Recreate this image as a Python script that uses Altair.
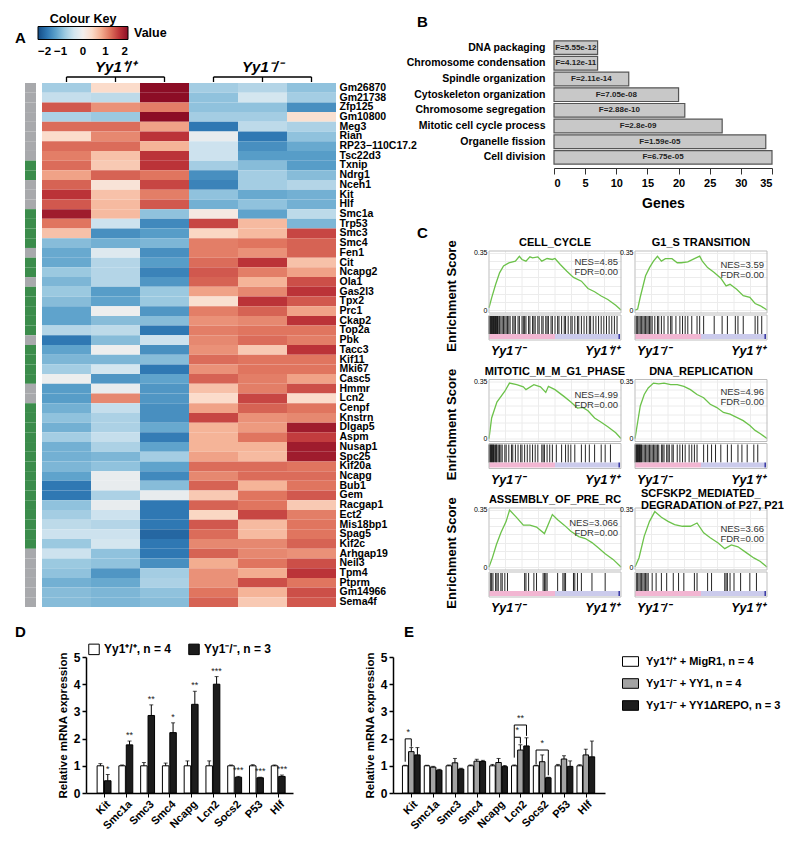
import json
import altair as alt
import pandas as pd

FONT = "Liberation Sans"
WT = "Yy1\u207a/\u207a"
KO = "Yy1\u207b/\u207b"

# ---------------- Panel A : heatmap ----------------
heat_genes = ["Gm26870", "Gm21738", "Zfp125", "Gm10800", "Meg3", "Rian", "RP23\u2212110C17.2",
              "Tsc22d3", "Txnip", "Ndrg1", "Nceh1", "Kit", "Hlf", "Smc1a", "Trp53", "Smc3", "Smc4",
              "Fen1", "Cit", "Ncapg2", "Ola1", "Gas2l3", "Tpx2", "Prc1", "Ckap2", "Top2a", "Pbk",
              "Tacc3", "Kif11", "Mki67", "Casc5", "Hmmr", "Lcn2", "Cenpf", "Knstrn", "Dlgap5", "Aspm",
              "Nusap1", "Spc25", "Kif20a", "Ncapg", "Bub1", "Gem", "Racgap1", "Ect2", "Mis18bp1",
              "Spag5", "Kif2c", "Arhgap19", "Neil3", "Tpm4", "Ptprm", "Gm14966", "Sema4f"]
wt1 = [-0.75, -0.5, 1.38, -0.69, 1.25, 0.38, 1.25, 1.13, 1.25, 0.88,
       1.31, 1.63, 1.38, 1.85, 1.19, 0.63, -0.94, -1.13, -1.13, -0.81,
       -1.0, -0.81, -0.94, -1.19, -1.19, -0.63, -1.6, -1.19, -1.0, -0.75,
       -0.06, -1.25, -1.25, -1.06, -0.88, -1.06, -0.75, -1.06, -1.06, -1.0,
       -1.19, -1.6, -1.6, -0.88, -0.75, -0.56, -0.44, -0.81, -0.44, -0.81,
       -0.88, -1.06, -0.94, -0.94]
wt2 = [0.38, -0.56, 1.0, -0.81, 1.25, 1.06, 1.25, 0.63, 0.56, 1.31,
       0.25, 0.63, 0.69, 0.69, -0.44, -1.38, -1.06, -0.25, -0.63, -0.63,
       -0.63, -1.25, -1.19, -0.06, -0.94, -0.56, -0.94, -0.06, -1.0, -0.38,
       -1.31, -0.13, 1.06, -0.5, -0.69, -0.69, -0.5, -0.69, -1.0, -0.88,
       -0.13, -0.13, -0.69, -0.13, -0.44, -0.63, -0.44, -0.38, -0.88, -0.88,
       -1.31, -1.13, -1.0, -1.0]
wt3 = [2.0, 2.0, 1.13, 2.0, 0.88, 1.63, 0.75, 1.63, 1.63, 1.19,
       1.5, 1.13, 1.38, -0.88, -1.44, -1.25, -1.0, -1.38, -1.25, -1.5,
       -1.31, -0.81, -0.81, -1.31, -0.94, -1.6, -0.44, -1.38, -0.94, -1.6,
       -1.19, -1.31, -1.31, -1.38, -1.38, -1.13, -1.56, -1.19, -0.75, -1.19,
       -1.44, -0.94, -0.13, -1.6, -1.6, -1.6, -1.75, -1.6, -1.6, -1.38,
       -0.75, -0.69, -0.88, -0.94]
ko1 = [-0.75, -0.88, -0.88, -0.75, -1.6, -0.13, -0.44, -0.44, -0.75, -1.38,
       -1.5, -0.88, -1.06, 0.13, 1.5, 0.44, 1.13, 1.13, 1.25, 1.38,
       1.31, 0.88, 0.31, 1.13, 1.0, 1.13, 1.06, 1.0, 1.25, 1.0,
       1.31, 0.63, 0.38, 0.88, 1.5, 0.75, 0.75, 0.75, 0.88, 1.25,
       1.06, 1.31, 0.56, 1.31, 0.44, 1.38, 1.25, 1.06, 1.31, 0.81,
       1.0, 1.0, 1.19, 1.31]
ko2 = [-0.63, -0.38, -0.88, -0.75, -0.56, -1.6, -1.38, -1.25, -0.94, -0.75,
       -0.75, -1.13, -0.88, -1.19, 0.69, 0.69, 1.19, 1.0, 1.63, 1.13,
       0.75, 1.06, 1.63, 1.31, 1.06, 1.19, 1.25, 0.56, 1.19, 1.19,
       1.13, 1.13, 1.5, 1.31, 1.0, 0.94, 1.19, 0.75, 0.69, 1.25,
       1.25, 0.75, 1.19, 1.19, 1.5, 0.69, 0.69, 1.06, 1.06, 1.19,
       0.81, 1.44, 0.75, 0.56]
ko3 = [-0.88, -0.75, -1.38, 0.31, -0.69, -0.88, -1.13, -1.25, -1.25, -0.94,
       -0.63, -1.06, -1.06, -0.56, -1.0, 1.5, 1.31, 1.31, 0.63, 0.88,
       1.44, 1.63, 1.38, 0.88, 1.63, 1.19, 1.13, 1.63, 1.19, 1.19,
       0.88, 1.44, 0.38, 1.19, 1.06, 1.85, 1.56, 1.85, 1.85, 1.19,
       1.25, 1.19, 1.38, 0.56, 1.13, 1.19, 1.19, 1.31, 1.0, 1.44,
       1.63, 1.19, 1.44, 1.38]
side_class = (["other"] * 8 + ["cycle"] * 2 + ["other"] * 3 + ["cycle"] * 4 + ["other"] +
              ["cycle"] * 2 + ["other"] + ["cycle"] * 5 + ["other"] + ["cycle"] * 4 +
              ["other"] * 2 + ["cycle"] * 15 + ["other"] * 6)
groups = [WT, KO]
group_first = [0, 3]
group_last = [2, 5]

# ---------------- Panel B ----------------
go_terms = ["DNA packaging", "Chromosome condensation", "Spindle organization",
            "Cytoskeleton organization", "Chromosome segregation", "Mitotic cell cycle process ",
            "Organelle fission", "Cell division"]
go_genes = [7, 7, 12, 20, 21, 27, 34, 35]
go_fdr = ["F=5.55e-12", "F=4.12e-11", "F=2.11e-14", "F=7.05e-08", "F=2.88e-10",
          "F=2.8e-09", "F=1.59e-05", "F=6.75e-05"]

# ---------------- Panel C : GSEA ----------------
gsea_titles = [["CELL_CYCLE"], ["G1_S TRANSITION"], ["MITOTIC_M_M_G1_PHASE"], ["DNA_REPLICATION"],
               ["ASSEMBLY_OF_PRE_RC"], ["SCFSKP2_MEDIATED_", "DEGRADATION of P27, P21"]]
gsea_nes = ["NES=4.85", "NES=3.59", "NES=4.99", "NES=4.96", "NES=3.066", "NES=3.66"]
gsea_fdr = ["FDR=0.00", "FDR=0.00", "FDR=0.00", "FDR=0.00", "FDR=0.00", "FDR=0.00"]
cc_x = [0, 2, 5, 8, 11, 15, 20, 23, 25, 28, 31, 33, 37, 40, 44, 48, 50, 54, 59, 64, 70, 75, 80, 85, 90, 96, 100]
cc_y = [0.014, 0.075, 0.157, 0.228, 0.27, 0.289, 0.3, 0.33, 0.31, 0.3, 0.326, 0.32, 0.326, 0.3, 0.316,
        0.31, 0.316, 0.279, 0.238, 0.2, 0.177, 0.132, 0.112, 0.086, 0.065, 0.03, 0.0]
g1_x = [0, 2, 4, 8, 11, 14, 17, 20, 23, 28, 32, 35, 40, 45, 49, 51, 55, 60, 65, 69, 72, 77, 82, 87, 91, 95, 100]
g1_y = [0, 0.006, 0.08, 0.21, 0.26, 0.3, 0.33, 0.3, 0.315, 0.315, 0.29, 0.29, 0.295, 0.315, 0.33, 0.3,
        0.26, 0.23, 0.195, 0.148, 0.158, 0.128, 0.088, 0.078, 0.04, 0.026, 0]
mi_x = [0, 2, 6, 12, 15.5, 21, 26, 28, 34, 39, 43, 45, 50, 57, 62, 67, 71, 75, 80, 85, 90, 96, 100]
mi_y = [0, 0.126, 0.224, 0.29, 0.34, 0.33, 0.317, 0.3, 0.33, 0.317, 0.283, 0.32, 0.3, 0.257, 0.224,
        0.187, 0.191, 0.17, 0.126, 0.1, 0.072, 0.035, 0]
dn_x = [0, 2, 4, 7, 10, 14, 18, 22, 27, 32, 37, 42, 47, 52, 57, 62, 67, 72, 77, 82, 87, 91, 95, 100]
dn_y = [0, 0.1, 0.2, 0.27, 0.31, 0.34, 0.335, 0.34, 0.33, 0.33, 0.32, 0.3, 0.27, 0.25, 0.21, 0.19,
        0.16, 0.15, 0.13, 0.11, 0.08, 0.05, 0.03, 0]
as_x = [0, 2.6, 5.7, 9, 13, 15.6, 21, 26, 31, 36, 42, 48, 52, 57, 62, 68, 73, 78, 83, 88, 94, 100]
as_y = [0, 0.058, 0.14, 0.21, 0.28, 0.35, 0.303, 0.257, 0.257, 0.245, 0.205, 0.322, 0.29, 0.257, 0.22,
        0.187, 0.175, 0.15, 0.117, 0.082, 0.047, 0]
sc_x = [0, 3, 7, 11, 15, 20, 25, 30, 36, 42, 47, 52, 57, 63, 68, 73, 78, 84, 90, 95, 100]
sc_y = [0, 0.056, 0.19, 0.28, 0.34, 0.305, 0.28, 0.26, 0.25, 0.25, 0.27, 0.21, 0.18, 0.147, 0.113,
        0.136, 0.124, 0.09, 0.056, 0.034, 0]
cc_hits = [0, 0.5, 1, 1.5, 2, 2.5, 3, 3.5, 4, 4.5, 5, 5.5, 6, 6.5, 7, 8, 9, 10, 11, 12, 13, 14, 15, 16,
           18, 19, 20, 22, 23, 25, 26, 27, 28, 30, 31, 33, 34, 35, 37, 38, 40, 41, 43, 44, 45, 47, 48,
           50, 52, 53, 55, 57, 58, 60, 62, 63, 65, 67, 68, 70, 72, 74, 76, 77, 79, 81, 83, 85, 87, 89,
           91, 93, 95, 97]
g1_hits = [0, 1, 2, 3, 4, 5, 6, 7, 8, 9, 10, 11, 12, 13, 15, 17, 18, 20, 22, 25, 27, 28, 31, 34, 36,
           38, 40, 43, 47, 49, 52, 60, 66, 70, 76, 78, 82, 91, 93, 96]
mi_hits = [0, 0.5, 1, 1.5, 2, 2.5, 3, 3.5, 4, 5, 5.5, 6, 7, 8, 9, 10, 12, 13, 15, 17, 18, 20, 22, 24,
           25, 27, 29, 31, 33, 35, 37, 40, 41, 42, 44, 46, 48, 51, 55, 58, 60, 62, 65, 70, 73, 76, 80,
           85, 88, 92]
dn_hits = [0, 0.5, 1, 1.5, 2, 2.5, 3, 3.5, 4, 4.5, 5, 6, 7, 8, 9, 10, 11, 12, 13, 14, 15, 16, 17, 18,
           20, 21, 22, 24, 25, 26, 28, 29, 32, 34, 36, 38, 41, 43, 45, 47, 52, 55, 58, 61, 65, 70, 73,
           78, 81, 85, 90, 93]
as_hits = [1, 2, 3, 5, 6, 7, 9, 10, 12, 14, 27, 28, 30, 34, 36, 41, 42, 43, 44, 52, 56, 57, 58, 64,
           65, 67, 70, 78, 88]
sc_hits = [1, 2, 3, 4, 5, 6, 7, 8, 9, 10, 13, 16, 20, 24, 29, 33, 37, 45, 47, 55, 58, 68, 69, 70, 72,
           75, 80, 87, 92]
strip_seg = ["up", "down", "end"]
strip_start = [0, 50, 98]
strip_end = [50, 98, 99.3]
grid_ranks = [12.5, 25, 37.5, 50, 62.5, 75, 87.5]

# ---------------- Panels D and E ----------------
qgenes = ["Kit", "Smc1a", "Smc3", "Smc4", "Ncapg", "Lcn2", "Socs2", "P53", "Hlf"]
d_wt = [1.0, 1.0, 1.0, 1.0, 1.0, 1.0, 1.0, 1.0, 1.0]
d_wt_err = [0.08, 0.03, 0.12, 0.1, 0.18, 0.18, 0.03, 0.04, 0.03]
d_ko = [0.45, 1.77, 2.85, 2.22, 3.26, 4.0, 0.58, 0.56, 0.61]
d_ko_err = [0.23, 0.14, 0.39, 0.36, 0.48, 0.28, 0.03, 0.02, 0.05]
d_stars = ["*", "**", "**", "*", "**", "***", "***", "***", "***"]
d_labels = [WT + ", n = 4", KO + ", n = 3"]

e_wt = [1.0, 1.0, 1.0, 1.0, 1.0, 1.0, 1.0, 1.0, 1.0]
e_wt_err = [0.02, 0.02, 0.03, 0.03, 0.05, 0.03, 0.02, 0.05, 0.04]
e_yy1 = [1.52, 0.95, 1.11, 1.17, 1.12, 1.58, 1.15, 1.25, 1.4]
e_yy1_err = [0.15, 0.03, 0.16, 0.07, 0.15, 0.19, 0.25, 0.12, 0.21]
e_rep = [1.4, 0.84, 0.88, 1.16, 0.97, 1.73, 0.56, 0.98, 1.33]
e_rep_err = [0.27, 0.03, 0.03, 0.04, 0.04, 0.3, 0.02, 0.2, 0.58]
e_labels = [WT + " + MigR1, n = 4", KO + " + YY1, n = 4", KO + " + YY1\u0394REPO, n = 3"]
brk_gene = [0, 5, 5, 6]
brk_from = ["wt", "wt", "wt", "wt"]
brk_to = ["yy1", "yy1", "rep", "rep"]
brk_top = [1.99, 2.05, 2.5, 1.58]
brk_from_low = [1.15, 1.3, 2.05, 1.05]
brk_to_low = [1.7, 1.82, 2.1, 0.65]
brk_star = ["*", "*", "**", "*"]


# ---------------- helpers ----------------
def spacer(w, h):
    return alt.Chart(pd.DataFrame({"s": [0]})).mark_point(opacity=0).encode(
        x=alt.value(0), y=alt.value(0)).properties(width=w, height=h)


def note(text, x, y, size=12, weight="bold", align="left", style="normal", color="black",
         baseline="middle", line_break=None):
    kw = dict(align=align, baseline=baseline, fontSize=size, fontWeight=weight, fontStyle=style,
              color=color)
    if line_break:
        kw["lineBreak"] = line_break
        kw["lineHeight"] = 10
    return alt.Chart(pd.DataFrame({"t": [text]})).mark_text(**kw).encode(
        text="t:N", x=alt.value(x), y=alt.value(y))


def box(x1, x2, y1, y2):
    return alt.Chart(pd.DataFrame({"b": [0]})).mark_rect(
        fillOpacity=0, stroke="#bdbdbd", strokeWidth=1).encode(
        x=alt.value(x1), x2=alt.value(x2), y=alt.value(y1), y2=alt.value(y2))


INDEP = dict(color="independent")

# ---------------- Panel A ----------------
heat_rows = []
for j, vals in enumerate([wt1, wt2, wt3, ko1, ko2, ko3]):
    for g, v in zip(heat_genes, vals):
        heat_rows.append({"gene": g, "col": j, "value": v})
heat_df = pd.DataFrame(heat_rows)
hx = alt.Scale(domain=[0, 6], nice=False, zero=False)
hy = alt.Y("gene:N", sort=heat_genes, scale=alt.Scale(paddingInner=0, paddingOuter=0),
           axis=alt.Axis(orient="right", ticks=False, domain=False, labelFontSize=10.5,
                         labelFontWeight="bold", labelPadding=3, labelColor="black", title=None))
cells = alt.Chart(heat_df).transform_calculate(col2="datum.col + 1").mark_rect().encode(
    x=alt.X("col:Q", scale=hx, axis=None), x2="col2:Q", y=hy,
    color=alt.Color("value:Q", scale=alt.Scale(scheme="redblue", reverse=True, domain=[-2, 2]),
                    legend=alt.Legend(title="Colour Key", orient="none", legendX=-4, legendY=-70,
                                      direction="horizontal", gradientLength=90,
                                      gradientThickness=13, values=[-2, -1, 0, 1, 2],
                                      titleFontSize=12.5, titleFontWeight="bold",
                                      titleAnchor="middle", titlePadding=1, labelFontSize=11.5,
                                      labelFontWeight="bold", labelOffset=6,
                                      gradientStrokeColor="black", gradientStrokeWidth=1)))
side_df = pd.DataFrame({"gene": heat_genes, "cls": side_class})
side = alt.Chart(side_df).mark_rect().encode(
    x=alt.value(-17), x2=alt.value(-6), y=alt.Y("gene:N", sort=heat_genes),
    color=alt.Color("cls:N", scale=alt.Scale(domain=["other", "cycle"],
                                             range=["#a8a9ac", "#3b8c4b"]), legend=None))
grp_df = pd.DataFrame({"grp": groups, "first": group_first, "last": group_last})
br_h = alt.Chart(grp_df).transform_calculate(a="datum.first + 0.5", b="datum.last + 0.5").mark_rule(
    color="black", strokeWidth=1.3).encode(x=alt.X("a:Q", scale=hx), x2="b:Q", y=alt.value(-6))
tick_df = pd.DataFrame({"col": list(range(6))})
br_t = alt.Chart(tick_df).transform_calculate(c="datum.col + 0.5").mark_rule(
    color="black", strokeWidth=1.3).encode(x=alt.X("c:Q", scale=hx), y=alt.value(-6), y2=alt.value(-1))
grp_txt = alt.Chart(grp_df).transform_calculate(m="(datum.first + datum.last) / 2 + 0.5").mark_text(
    fontSize=15, fontWeight="bold", fontStyle="italic", baseline="middle").encode(
    x=alt.X("m:Q", scale=hx), y=alt.value(-16), text="grp:N")
panel_a = alt.layer(cells, side, br_h, br_t, grp_txt,
                    note("Value", 92, -50, size=12.5),
                    note("A", -27, -45, size=15)).resolve_scale(**INDEP).properties(
    width=294, height=524)
col_a = alt.vconcat(spacer(294, 43), panel_a, spacing=0, bounds="flush").resolve_scale(**INDEP)

# ---------------- Panel B ----------------
b_df = pd.DataFrame({"term": go_terms, "genes": go_genes, "fdr": go_fdr})
by = alt.Y("term:N", sort=go_terms, scale=alt.Scale(paddingInner=0.13, paddingOuter=0.05),
           axis=alt.Axis(title=None, ticks=False, domain=False, labelFontSize=10.5,
                         labelFontWeight="bold", labelPadding=9, labelColor="black"))
bxs = alt.Scale(domain=[0, 35], nice=False)
bx_axis = alt.Axis(values=[0, 5, 10, 15, 20, 25, 30, 35], title="Genes", titleFontSize=14,
                   titleFontWeight="bold", titlePadding=8, labelFontSize=11,
                   labelFontWeight="bold", tickSize=6, tickColor="#333", labelOverlap=False,
                   domainColor="#333", offset=3, grid=False, labelPadding=3)
b_bars = alt.Chart(b_df).mark_bar(color="#c8c8c8", stroke="#555555", strokeWidth=1.2).encode(
    x=alt.X("genes:Q", scale=bxs, axis=bx_axis, title="Genes"), y=by)
b_txt = alt.Chart(b_df).transform_calculate(mid="datum.genes / 2").mark_text(
    fontSize=8, fontWeight="bold", color="#222").encode(
    x=alt.X("mid:Q", scale=bxs, axis=bx_axis, title="Genes"), y=by, text="fdr:N")
panel_b = alt.layer(b_bars, b_txt, note("B", -137, -18, size=15)).properties(width=218, height=125)
row_b = alt.hconcat(spacer(65, 125), panel_b, spacing=0, bounds="flush")

# ---------------- Panel C ----------------
curves = [(cc_x, cc_y), (g1_x, g1_y), (mi_x, mi_y), (dn_x, dn_y), (as_x, as_y), (sc_x, sc_y)]
hits_all = [cc_hits, g1_hits, mi_hits, dn_hits, as_hits, sc_hits]
nes_pos = [6, 9, 10, 7, 10, 16]
GW, GH = 132, 62
B0, B1, B2 = 64, 83, 89   # barcode top, strip top, panel bottom
TSIZE = 11


def gsea(i):
    left = i % 2 == 0
    xs, ys = curves[i]
    cdf = pd.DataFrame({"rank": xs, "es": ys})
    xsc = alt.Scale(domain=[0, 100], nice=False, zero=False)
    gdf = pd.DataFrame({"g": grid_ranks})
    grid = alt.Chart(gdf).mark_rule(color="#ececec", strokeWidth=1).encode(
        x=alt.X("g:Q", scale=xsc, axis=None), y=alt.value(0), y2=alt.value(GH))
    line = alt.Chart(cdf).mark_line(color="#6cc24a", strokeWidth=1.3).encode(
        x=alt.X("rank:Q", scale=xsc, axis=None),
        y=alt.Y("es:Q", scale=alt.Scale(domain=[-0.018, 0.362], range=[GH, 0], nice=False, zero=False),
                axis=alt.Axis(values=[0, 0.05, 0.1, 0.15, 0.2, 0.25, 0.3, 0.35],
                              labelExpr="datum.value == 0 ? '0' : (datum.value > 0.34 ? '0.35' : '')",
                              labelFontSize=7, labelPadding=2, ticks=False, domain=False,
                              grid=True, gridColor="#ececec",
                              title="Enrichment Score" if left else None, titleFontSize=13,
                              titleFontWeight="bold", titleX=-38, titleY=44.5, titleAngle=270,
                              titleAlign="center", titleBaseline="middle")))
    hdf = pd.DataFrame({"hit": hits_all[i]})
    bars = alt.Chart(hdf).mark_rule(color="black", strokeWidth=1, opacity=0.85).encode(
        x=alt.X("hit:Q", scale=xsc), y=alt.value(B0 + 1), y2=alt.value(B1))
    sdf = pd.DataFrame({"seg": strip_seg, "start": strip_start, "end": strip_end})
    strip = alt.Chart(sdf).mark_rect().encode(
        x=alt.X("start:Q", scale=xsc), x2="end:Q", y=alt.value(B1), y2=alt.value(B2 - 1),
        color=alt.Color("seg:N", scale=alt.Scale(domain=strip_seg,
                                                 range=["#f2b6d2", "#cbcbec", "#3d3da6"]),
                        legend=None))
    layers = [grid, line, box(0, GW, 0, GH), bars, strip, box(0, GW, B0, B2),
              note(KO, 2, B2 + 11, size=12.5, style="italic"),
              note(WT, GW - 2, B2 + 11, size=12.5, style="italic", align="right"),
              note(gsea_nes[i] + "\n" + gsea_fdr[i], GW - 3, nes_pos[i], size=9.5,
                   weight="normal", align="right", color="#333", baseline="top", line_break="\n")]
    if len(gsea_titles[i]) == 1:
        layers.append(note(gsea_titles[i][0], GW / 2, -8, size=TSIZE, align="center"))
    else:
        layers.append(note(gsea_titles[i][0], 6, -14, size=TSIZE))
        layers.append(note(gsea_titles[i][1], 6, -2, size=TSIZE))
    if i == 0:
        layers.append(note("C", -72, -18, size=15))
    return alt.layer(*layers).properties(width=GW, height=B2)


panel_c = alt.concat(*[gsea(i) for i in range(6)], columns=2,
                     spacing={"row": 39.5, "column": 14}, bounds="flush")
col_right = alt.vconcat(row_b, panel_c, spacing=16).resolve_scale(**INDEP)
top_row = alt.hconcat(col_a, col_right, spacing=-11).resolve_scale(**INDEP)

# ---------------- Panels D and E shared axes ----------------
gene_expr = json.dumps(qgenes) + "[datum.value]"
X_AXIS = alt.Axis(values=list(range(9)), labelExpr=gene_expr, labelAngle=315, labelAlign="right",
                  labelBaseline="top", labelFontSize=11, labelFontWeight="bold", labelPadding=1,
                  labelOverlap=False, tickSize=4, tickColor="black", domainColor="black",
                  domainWidth=1.5, title=None, grid=False)
Y_AXIS = alt.Axis(values=[0, 1, 2, 3, 4, 5], title="Relative mRNA expression", titleFontSize=11.5,
                  titleFontWeight="bold", titlePadding=5, labelFontSize=12, labelOverlap=False,
                  labelFontWeight="bold", tickSize=4, tickColor="black", tickWidth=1.5,
                  domainColor="black", domainWidth=1.5, grid=False, labelPadding=2)
dys = alt.Scale(domain=[0, 5], nice=False)


def qx(field, scale):
    return alt.X(field, scale=scale, axis=X_AXIS, title=None)


def qy(field):
    return alt.Y(field, scale=dys, axis=Y_AXIS, title="Relative mRNA expression", stack=None)


# ---------------- Panel D ----------------
d_rows = []
for key, lab, vals, errs in [("wt", d_labels[0], d_wt, d_wt_err), ("ko", d_labels[1], d_ko, d_ko_err)]:
    for gi in range(9):
        d_rows.append({"gi": gi, "key": key, "label": lab, "value": vals[gi], "err": errs[gi],
                       "star": d_stars[gi] if key == "ko" else ""})
d_df = pd.DataFrame(d_rows)
dxs = alt.Scale(domain=[-0.6, 8.45], nice=False, zero=False)
d_base = alt.Chart(d_df).transform_calculate(
    xpos="datum.gi + (datum.key == 'wt' ? -0.17 : 0.17)", top="datum.value + datum.err")
d_bars = d_base.mark_bar(orient="vertical", size=6.5, stroke="black", strokeWidth=1).encode(
    x=qx("xpos:Q", dxs), y=qy("value:Q"),
    color=alt.Color("label:N", scale=alt.Scale(domain=d_labels, range=["white", "#1c1c1c"]),
                    legend=alt.Legend(title=None, orient="none", legendX=2, legendY=-14,
                                      direction="horizontal", symbolType="square",
                                      symbolSize=110, symbolStrokeColor="black",
                                      symbolStrokeWidth=1, labelFontSize=12,
                                      labelFontWeight="bold", columnPadding=14, labelOffset=4)))
d_err = d_base.mark_rule(color="black", strokeWidth=1).encode(
    x=qx("xpos:Q", dxs), y=qy("value:Q"), y2="top:Q")
d_cap = d_base.mark_tick(orient="horizontal", size=4, thickness=1, color="black").encode(
    x=qx("xpos:Q", dxs), y=qy("top:Q"))
d_star = d_base.mark_text(fontSize=9, baseline="bottom", dy=-1, color="#222").encode(
    x=qx("xpos:Q", dxs), y=qy("top:Q"), text="star:N")
panel_d = alt.layer(d_bars, d_err, d_cap, d_star, note("D", -71, -25, size=15)).properties(
    width=207, height=136)

# ---------------- Panel E ----------------
e_rows = []
for key, lab, vals, errs in [("wt", e_labels[0], e_wt, e_wt_err), ("yy1", e_labels[1], e_yy1, e_yy1_err),
                             ("rep", e_labels[2], e_rep, e_rep_err)]:
    for gi in range(9):
        e_rows.append({"gi": gi, "key": key, "label": lab, "value": vals[gi], "err": errs[gi]})
e_df = pd.DataFrame(e_rows)
exs = alt.Scale(domain=[-0.61, 8.65], nice=False, zero=False)
off = "(datum.key == 'wt' ? -0.28 : (datum.key == 'yy1' ? 0 : 0.28))"
e_base = alt.Chart(e_df).transform_calculate(xpos="datum.gi + " + off, top="datum.value + datum.err")
rect_path = "M-1,-0.6H1V0.6H-1Z"
e_bars = e_base.mark_bar(orient="vertical", size=5.5, stroke="black", strokeWidth=1).encode(
    x=qx("xpos:Q", exs), y=qy("value:Q"),
    color=alt.Color("label:N", scale=alt.Scale(domain=e_labels, range=["white", "#a3a3a3", "#1c1c1c"]),
                    legend=alt.Legend(title=None, orient="none", legendX=229, legendY=-4,
                                      direction="vertical", symbolType=rect_path, symbolSize=256,
                                      symbolStrokeColor="black", symbolStrokeWidth=1,
                                      labelFontSize=11, labelFontWeight="bold", rowPadding=6,
                                      labelOffset=7)))
e_err = e_base.mark_rule(color="black", strokeWidth=1).encode(
    x=qx("xpos:Q", exs), y=qy("value:Q"), y2="top:Q")
e_cap = e_base.mark_tick(orient="horizontal", size=4, thickness=1, color="black").encode(
    x=qx("xpos:Q", exs), y=qy("top:Q"))
brk_df = pd.DataFrame({"g": brk_gene, "a": brk_from, "b": brk_to, "top": brk_top,
                       "alow": brk_from_low, "blow": brk_to_low, "star": brk_star})
offa = "(datum.a == 'wt' ? -0.28 : (datum.a == 'yy1' ? 0 : 0.28))"
offb = "(datum.b == 'wt' ? -0.28 : (datum.b == 'yy1' ? 0 : 0.28))"
brk_base = alt.Chart(brk_df).transform_calculate(
    xa="datum.g + " + offa, xb="datum.g + " + offb, xm="datum.g + (" + offa + " + " + offb + ") / 2")
brk_h = brk_base.mark_rule(color="black", strokeWidth=1).encode(
    x=qx("xa:Q", exs), x2="xb:Q", y=qy("top:Q"))
brk_l = brk_base.mark_rule(color="black", strokeWidth=1).encode(
    x=qx("xa:Q", exs), y=qy("top:Q"), y2="alow:Q")
brk_r = brk_base.mark_rule(color="black", strokeWidth=1).encode(
    x=qx("xb:Q", exs), y=qy("top:Q"), y2="blow:Q")
brk_s = brk_base.mark_text(fontSize=9, baseline="bottom", dy=-2, color="#222").encode(
    x=qx("xm:Q", exs), y=qy("top:Q"), text="star:N")
panel_e = alt.layer(e_bars, e_err, e_cap, brk_h, brk_l, brk_r, brk_s,
                    note("E", 11, -25, size=15)).properties(width=212, height=136)

bottom_row = alt.hconcat(spacer(44, 136), panel_d, spacer(100, 136), panel_e, spacing=0,
                         bounds="flush").resolve_scale(**INDEP)

chart = alt.vconcat(top_row, bottom_row, spacing=10).resolve_scale(**INDEP).properties(
    padding={"left": 7, "top": 5, "right": 0, "bottom": 0}
).configure(font=FONT).configure_view(stroke=None).configure_axis(
    labelFont=FONT, titleFont=FONT, labelColor="black", titleColor="black"
).configure_legend(labelFont=FONT, titleFont=FONT, labelColor="black", titleColor="black"
).configure_title(font=FONT, color="black")

chart.save("out.html", embed_options={"renderer": "svg", "actions": False})
